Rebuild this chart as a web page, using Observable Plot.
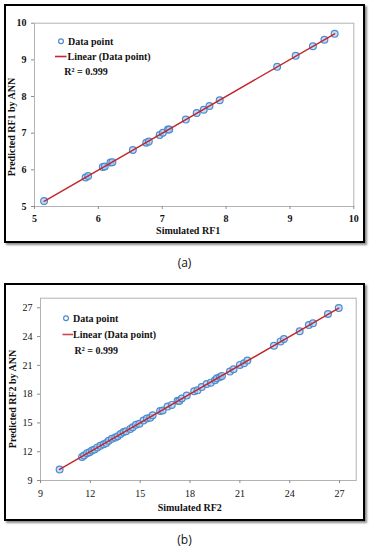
<!DOCTYPE html>
<html><head><meta charset="utf-8">
<script src="https://cdn.jsdelivr.net/npm/d3@7"></script>
<script src="https://cdn.jsdelivr.net/npm/@observablehq/plot@0.6"></script>
<style>
body{margin:0;background:#fff;width:369px;height:550px;position:relative;overflow:hidden;font-family:"Liberation Serif",serif}
.box{position:absolute;left:4px;width:361px;box-sizing:border-box;border:2px solid #000;box-shadow:2px 2px 2px rgba(0,0,0,.45);background:#fff}
.chart{position:absolute;left:4px}
.cap{position:absolute;left:0;width:369px;text-align:center;font:12px "Open Sans",sans-serif;line-height:14px;color:#111}
#overlay{position:absolute;left:0;top:0;pointer-events:none}
</style></head><body>
<div class="box" style="top:4px;height:239px"></div>
<div class="box" style="top:283px;height:238px"></div>
<div class="chart" id="ca" style="top:4px"></div>
<div class="chart" id="cb" style="top:283px"></div>
<div class="cap" style="top:256px">(a)</div>
<div class="cap" style="top:533px">(b)</div>
<script>
// ---- data ----
const rf1Sim  = [5.15, 5.80, 5.84, 6.07, 6.10, 6.19, 6.22, 6.54, 6.75, 6.79, 6.96, 7.01, 7.09, 7.11, 7.37, 7.54, 7.65, 7.74, 7.90, 8.80, 9.09, 9.36, 9.54, 9.70];
const rf1Pred = [5.15, 5.79, 5.83, 6.08, 6.09, 6.20, 6.21, 6.54, 6.74, 6.77, 6.95, 7.01, 7.10, 7.10, 7.37, 7.55, 7.64, 7.74, 7.90, 8.81, 9.11, 9.37, 9.55, 9.71];
const rf1Ticks = [5, 6, 7, 8, 9, 10];

const rf2Sim  = [10.15, 11.50, 11.62, 11.80, 11.95, 12.10, 12.25, 12.42, 12.60, 12.80, 12.96, 13.10, 13.30, 13.50, 13.65, 13.82, 14.00, 14.15, 14.40, 14.55, 14.75, 14.95, 15.20, 15.40, 15.60, 15.75, 16.20, 16.35, 16.65, 16.90, 17.25, 17.35, 17.50, 17.80, 18.25, 18.45, 18.70, 19.00, 19.25, 19.50, 19.62, 19.80, 19.92, 20.40, 20.62, 21.00, 21.25, 21.45, 23.05, 23.45, 23.65, 24.60, 25.15, 25.40, 26.30, 26.95];
const rf2Pred = [10.15, 11.45, 11.60, 11.85, 11.95, 12.12, 12.22, 12.45, 12.62, 12.78, 12.90, 13.15, 13.35, 13.48, 13.62, 13.85, 14.05, 14.12, 14.38, 14.55, 14.80, 14.92, 15.25, 15.45, 15.55, 15.80, 16.25, 16.30, 16.70, 16.88, 17.30, 17.28, 17.55, 17.85, 18.30, 18.40, 18.75, 19.05, 19.20, 19.45, 19.65, 19.78, 19.90, 20.35, 20.60, 21.05, 21.22, 21.50, 23.05, 23.50, 23.75, 24.55, 25.20, 25.38, 26.35, 26.97];
const rf2Ticks = [9, 12, 15, 18, 21, 24, 27];

const legendLabels = ["Data point", "Linear (Data point)", "R\u00b2 = 0.999"];
const titlesA = {x: "Simulated RF1", y: "Predicted RF1 by ANN"};
const titlesB = {x: "Simulated RF2", y: "Predicted RF2 by ANN"};

const dotStroke = "#4b8bd0", dotFill = "#a9c9ee", lineColor = "#c1272d";
const serif = "Liberation Serif";

function panel(sim, pred, ticks, domain, titles, o) {
  const data = sim.map((x, i) => ({x, y: pred[i]}));
  return Plot.plot({
    width: 361, height: o.height,
    marginLeft: o.ml, marginRight: o.mr, marginTop: o.mt, marginBottom: o.mb,
    style: {fontFamily: serif, background: "transparent", overflow: "visible", color: "#000"},
    x: {domain}, y: {domain},
    marks: [
      Plot.frame({stroke: "#b3b3b3"}),
      Plot.axisX({ticks, tickFormat: (d) => String(d), tickSize: 3, tickPadding: o.xpad, stroke: "#8c8c8c", fill: "#111", label: null, fontSize: 10, fontWeight: o.tickWeight}),
      Plot.axisY({ticks, tickFormat: (d) => String(d), tickSize: 3, tickPadding: 5, stroke: "#8c8c8c", fill: "#111", label: null, fontSize: 10, fontWeight: o.tickWeight}),
      Plot.dot(data, {x: "x", y: "y", r: 3.4, stroke: dotStroke, strokeWidth: 1.2, fill: dotFill, fillOpacity: 0.65}),
      Plot.linearRegressionY(data, {x: "x", y: "y", stroke: lineColor, strokeWidth: 1.4, ci: 0}),
      Plot.text([titles.x], {frameAnchor: "bottom", lineAnchor: "bottom", dy: o.xlo, dx: o.xdx, fontSize: 10, fontWeight: "bold", fill: "#111"})
    ]
  });
}

document.getElementById("ca").append(panel(rf1Sim, rf1Pred, rf1Ticks, [5, 10], titlesA,
  {height: 239, ml: 30, mr: 11.7, mt: 18.7, mb: 37, xpad: 5, tickWeight: "bold", xlo: 27.3, xdx: -6}));
document.getElementById("cb").append(panel(rf2Sim, rf2Pred, rf2Ticks, [9, 28], titlesB,
  {height: 238, ml: 36, mr: 9.3, mt: 14.7, mb: 41, xpad: 6, tickWeight: "normal", xlo: 30, xdx: -8.6}));

// ---- legends and y titles (overlay) ----
const svg = d3.select("body").append("svg").attr("id", "overlay").attr("width", 369).attr("height", 550);
function legend(g, L) {
  g.append("circle").attr("cx", L.cx).attr("cy", L.cy).attr("r", 2.4)
    .attr("fill", "#fff").attr("stroke", dotStroke).attr("stroke-width", 1.2);
  g.append("line").attr("x1", L.lx1).attr("x2", L.lx2).attr("y1", L.ly).attr("y2", L.ly)
    .attr("stroke", L.lc).attr("stroke-width", 1.6);
  const t = [[L.tx1, L.ty1], [L.tx2, L.ty2], [L.tx3, L.ty3]];
  legendLabels.forEach((s, i) => g.append("text").attr("x", t[i][0]).attr("y", t[i][1])
    .attr("font-family", serif).attr("font-size", 10).attr("font-weight", "bold").attr("fill", "#111").text(s));
  g.append("text").attr("transform", `translate(${L.yx},${L.yy}) rotate(-90)`).attr("text-anchor", "middle")
    .attr("font-family", serif).attr("font-size", 10).attr("font-weight", "bold").attr("fill", "#111").text(L.ytitle);
}
legend(svg.append("g"), {cx: 61, cy: 41.2, lx1: 55, lx2: 66.5, ly: 56.5, lc: lineColor,
  tx1: 68, ty1: 44.5, tx2: 67.5, ty2: 59.8, tx3: 64.3, ty3: 75.3, yx: 15, yy: 127, ytitle: titlesA.y});
legend(svg.append("g"), {cx: 66, cy: 318.3, lx1: 62.5, lx2: 73, ly: 334.5, lc: "#c9494b",
  tx1: 73, ty1: 321.6, tx2: 73, ty2: 337.8, tx3: 74.5, ty3: 353.8, yx: 16, yy: 399, ytitle: titlesB.y});
</script>
</body></html>
